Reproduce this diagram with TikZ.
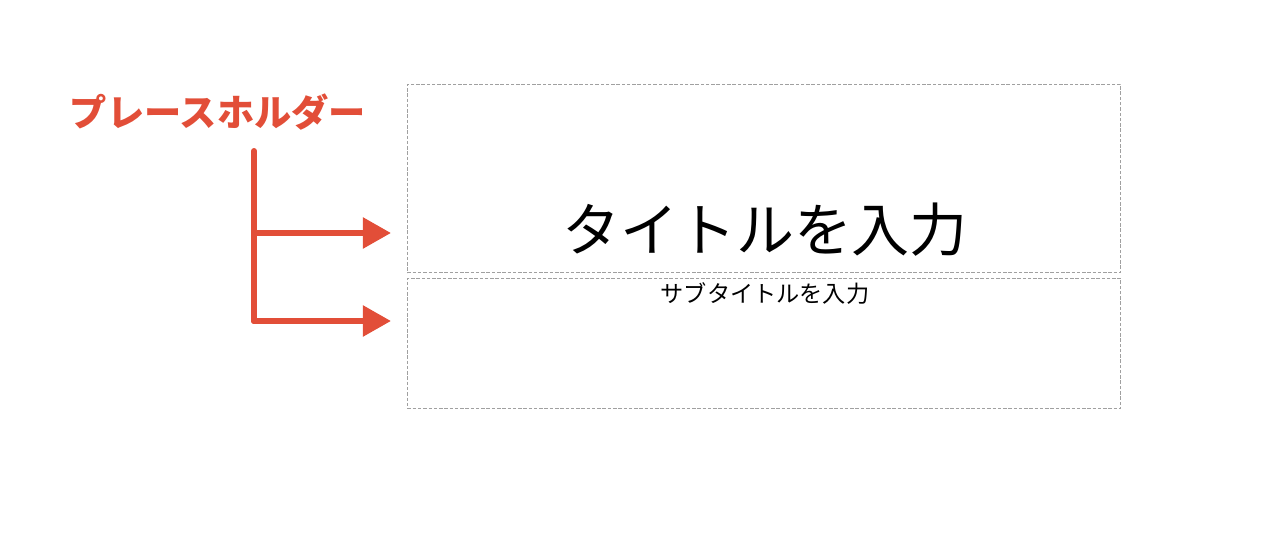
\documentclass[tikz,border=0pt]{standalone}
\usepackage{fontspec}
\usepackage{tikz}
\usepackage{xcolor}
\usetikzlibrary{arrows.meta}
\newfontfamily\jp{Noto Sans CJK JP}
\definecolor{phred}{RGB}{226,78,56}
\definecolor{phgray}{RGB}{160,160,160}

\begin{document}
\begin{tikzpicture}[x=0.02cm,y=-0.02cm]%
  \tikzstyle{phbox}=[rectangle,draw=phgray,dashed,line width=0.6pt,dash pattern=on 2pt off 1pt,minimum width=405.9pt,inner sep=0]
  \tikzstyle{pharrow}=[draw=phred,line width=3.4pt,-{Triangle[length=16pt,width=17pt]}]
  \useasboundingbox (0,0) rectangle (1280,533);
  % placeholder boxes
  \node(titlebox)[phbox,minimum height=107.1pt] at (764,178.5) {};
  \node(subbox)[phbox,minimum height=74.3pt] at (764,343.5) {};
  \node(title) at (765,230) {\jp\fontsize{33pt}{36pt}\selectfont タイトルを入力};
  \node(subtitle) at (765,294) {\jp\fontsize{13.2pt}{15pt}\selectfont サブタイトルを入力};
  % label and arrows
  \node(lbl)[text=phred] at (218,112) {\jp\bfseries\fontsize{21.2pt}{24pt}\selectfont プレースホルダー};
  \coordinate(top) at (254,151);
  \coordinate(fork) at (254,233);
  \coordinate(corner) at (254,321);
  \coordinate(tip1) at (391,233);
  \coordinate(tip2) at (391,321);
  \draw[phred,line width=3.4pt,line cap=round,line join=round] (top) -- (corner);
  \draw[pharrow] (fork) -- (tip1);
  \draw[pharrow,line join=round] (fork) -- (corner) -- (tip2);
\end{tikzpicture}
\end{document}
